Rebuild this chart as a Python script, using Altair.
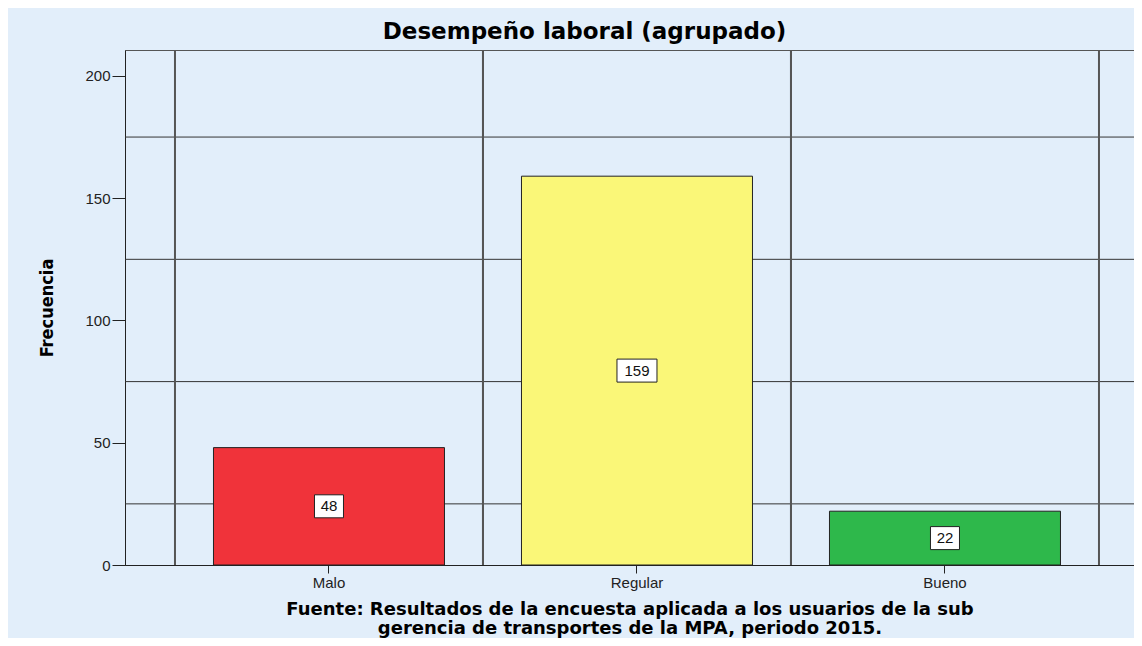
import altair as alt
import pandas as pd

categories = ["Malo", "Regular", "Bueno"]
frequencies = [48, 159, 22]
bar_colors = ["#F0333A", "#FAF778", "#2EB84B"]
y_ticks = [0, 50, 100, 150, 200]
y_minor_grid = [25, 75, 125, 175]
title_text = "Desempeño laboral (agrupado)"
y_title = "Frecuencia"
source_lines = [
    "Fuente: Resultados de la encuesta aplicada a los usuarios de la sub",
    "gerencia de transportes de la MPA, periodo 2015.",
]

df = pd.DataFrame({"cat": categories, "freq": frequencies})
grid_df = pd.DataFrame({"g": y_minor_grid})

BG = "#E2EEFA"
FONT = "Liberation Sans"

x_scale = alt.Scale(domain=categories, paddingInner=0, paddingOuter=0.138, align=0.588)
y_scale = alt.Scale(domain=[0, 210.6], nice=False, zero=True)

x_axis = alt.Axis(
    title=source_lines,
    titleFont="DejaVu Sans",
    titleFontSize=18,
    titleFontWeight="bold",
    titleColor="#000",
    titlePadding=10,
    titleLineHeight=19,
    labelFont=FONT,
    labelFontSize=15,
    labelColor="#222",
    labelPadding=2,
    tickSize=8,
    tickColor="#222",
    domainColor="#222",
    labelAngle=0,
    grid=False,
)
y_axis = alt.Axis(
    values=y_ticks,
    title=y_title,
    titleFont="Liberation Sans Narrow, DejaVu Sans Condensed, Liberation Sans",
    titleFontSize=18,
    titleFontWeight="bold",
    titleColor="#000",
    titlePadding=28,
    labelFont=FONT,
    labelFontSize=15,
    labelColor="#222",
    labelPadding=2,
    tickSize=13,
    tickColor="#222",
    domainColor="#222",
    grid=False,
)

hgrid = alt.Chart(grid_df).mark_rule(color="#333", strokeWidth=1).encode(
    y=alt.Y("g:Q", scale=y_scale, axis=y_axis)
)

vgrid_left = alt.Chart(df).mark_rule(color="#555", strokeWidth=2).encode(
    x=alt.X("cat:N", scale=x_scale, axis=x_axis, bandPosition=0, sort=categories)
)
vgrid_right = alt.Chart(df).mark_rule(color="#555", strokeWidth=2).encode(
    x=alt.X("cat:N", scale=x_scale, axis=x_axis, bandPosition=1, sort=categories)
)

bars = alt.Chart(df).mark_bar(
    width=alt.RelativeBandSize(0.75), stroke="#222", strokeWidth=1
).encode(
    x=alt.X("cat:N", scale=x_scale, axis=x_axis, sort=categories),
    y=alt.Y("freq:Q", scale=y_scale, axis=y_axis),
    color=alt.Color("cat:N", scale=alt.Scale(domain=categories, range=bar_colors), legend=None),
)

base_lbl = alt.Chart(df).transform_calculate(
    mid="datum.freq / 2",
    lo="datum.freq / 2 - 4.7",
    hi="datum.freq / 2 + 4.7",
    boxw="7 + 11 * length(toString(datum.freq))",
)

label_box = base_lbl.mark_bar(fill="white", stroke="#222", strokeWidth=1).encode(
    x=alt.X("cat:N", scale=x_scale, axis=x_axis, sort=categories),
    y=alt.Y("lo:Q", scale=y_scale, axis=y_axis),
    y2="hi:Q",
    size=alt.Size("boxw:Q", scale=None, legend=None),
)

label_text = base_lbl.mark_text(font=FONT, fontSize=15, color="#111", baseline="middle").encode(
    x=alt.X("cat:N", scale=x_scale, axis=x_axis, sort=categories),
    y=alt.Y("mid:Q", scale=y_scale, axis=y_axis),
    text="freq:Q",
)

chart = alt.layer(hgrid, vgrid_left, vgrid_right, bars, label_box, label_text).properties(
    width=1009,
    height=515,
    background=BG,
    padding={"left": 117, "top": 42, "right": 0, "bottom": 73},
    autosize=alt.AutoSizeParams(type="none"),
    title=alt.TitleParams(
        text=title_text,
        font="DejaVu Sans",
        fontSize=23,
        fontWeight="bold",
        color="#000",
        anchor="middle",
        offset=5,
        dx=-45,
    ),
).configure_view(stroke="#555", strokeWidth=1, fill=BG)

chart.save("out.html", embed_options={"renderer": "svg", "actions": False})
